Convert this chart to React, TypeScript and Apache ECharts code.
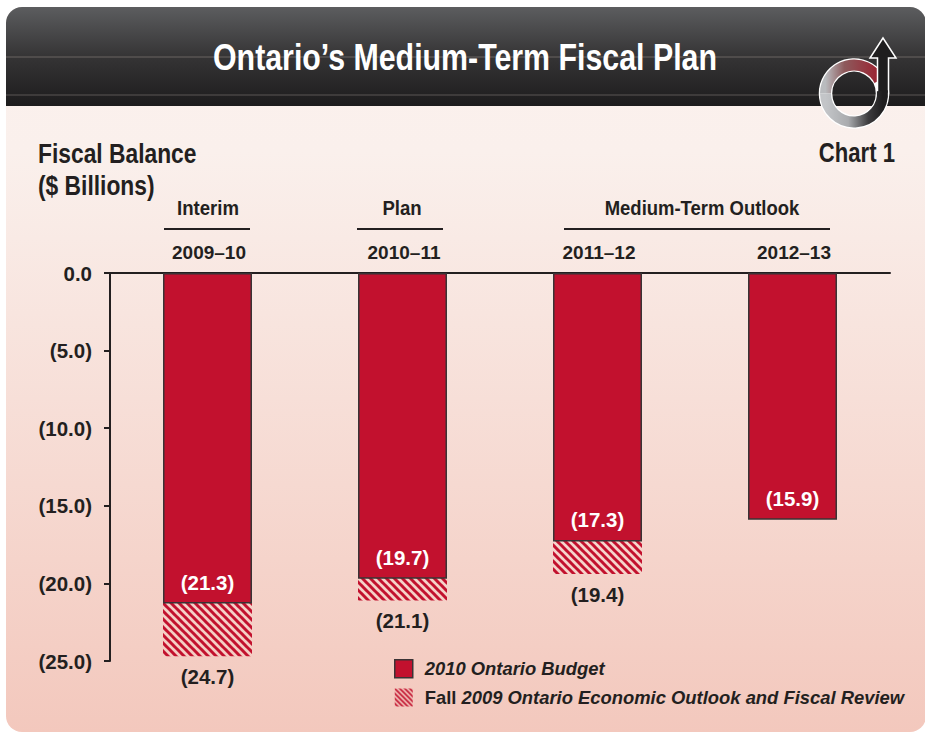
import React, { useEffect, useRef } from "react";
import * as echarts from "echarts";

const categories = ["2009–10", "2010–11", "2011–12", "2012–13"];
const budgetValues = [-21.3, -19.7, -17.3, -15.9];
const fallValues: (number | null)[] = [-24.7, -21.1, -19.4, null];
const budgetName = "2010 Ontario Budget";
const fallName = "Fall 2009 Ontario Economic Outlook and Fiscal Review";
const FONT = "'Liberation Sans', sans-serif";
const RED = "#c2112e";
const INK = "#231f20";

function hatch(size: number, lw: number) {
  const c = document.createElement("canvas");
  c.width = size;
  c.height = size;
  const g = c.getContext("2d")!;
  g.strokeStyle = RED;
  g.lineWidth = lw;
  for (let i = -1; i <= 1; i++) {
    g.beginPath();
    g.moveTo(i * size - 1, -1);
    g.lineTo(i * size + size + 1, size + 1);
    g.stroke();
  }
  return { image: c, repeat: "repeat" } as any;
}

const arrowPath = "M883 38 L896 58 L888.5 58 L888.5 93.5 L877.5 93.5 L877.5 58 L870 58 Z";
echarts.graphic.registerShape("fpArrowShape", echarts.graphic.extendPath(arrowPath, {}) as any);

const text = (x: number, y: number, t: string, size: number, sx: number, align = "left", fill = INK) => ({
  type: "text",
  x,
  y,
  scaleX: sx,
  style: { text: t, fontFamily: FONT, fontWeight: "bold", fontSize: size, fill, align, verticalAlign: "middle" },
});
const rule = (x1: number, x2: number, y: number) => ({
  type: "line",
  shape: { x1, y1: y, x2, y2: y },
  style: { stroke: INK, lineWidth: 2 },
});
const grad = (x: number, y: number, x2: number, y2: number, stops: [number, string][]) =>
  new echarts.graphic.LinearGradient(x, y, x2, y2, stops.map(([offset, color]) => ({ offset, color })));

const CX = 854;
const CY = 93.5;
const R = 28.5;

export default function App() {
  const ref = useRef<HTMLDivElement>(null);
  useEffect(() => {
    const chart = echarts.init(ref.current!, null, { renderer: "svg" });
    chart.setOption({
      animation: false,
      backgroundColor: "#ffffff",
      graphic: {
        elements: [
          {
            type: "rect",
            z: -10,
            shape: { x: 6, y: 7, width: 920, height: 725, r: 16 },
            style: { fill: grad(0, 0, 0, 1, [[0, "#fbf1ee"], [0.2, "#faf0ec"], [1, "#f3c8bd"]]) },
          },
          {
            type: "rect",
            z: -9,
            shape: { x: 6, y: 7, width: 920, height: 99, r: [16, 16, 0, 0] },
            style: { fill: grad(0, 0, 0, 1, [[0, "#5c5d5f"], [0.5, "#353435"], [1, "#1d1c1d"]]) },
          },
          { type: "line", z: -8, shape: { x1: 6, y1: 57, x2: 926, y2: 57 }, style: { stroke: "#6a6462", lineWidth: 1 } },
          { type: "line", z: -8, shape: { x1: 6, y1: 95, x2: 926, y2: 95 }, style: { stroke: "#5a5654", lineWidth: 1 } },
          // logo
          { type: "arc", z: 1, shape: { cx: CX, cy: CY, r: R, startAngle: 0, endAngle: Math.PI * 2 }, style: { stroke: "#ffffff", lineWidth: 13.5, fill: "none" } },
          { type: "fpArrowShape", z: 2, style: { fill: "#1f1e1f", stroke: "#ffffff", lineWidth: 1.5 } },
          {
            type: "arc", z: 1,
            shape: { cx: CX, cy: CY, r: R, startAngle: Math.PI, endAngle: Math.PI * 1.85 },
            style: { fill: "none", lineWidth: 11, stroke: grad(0, 0, 1, 0, [[0, "#b9bbbe"], [0.35, "#8d5a5c"], [1, "#9b2231"]]) },
          },
          {
            type: "arc", z: 3,
            shape: { cx: CX, cy: CY, r: R, startAngle: -0.03 * Math.PI, endAngle: Math.PI },
            style: { fill: "none", lineWidth: 11, stroke: grad(0, 0, 1, 0, [[0, "#c3c5c8"], [0.4, "#a9abae"], [0.75, "#3d3c3e"], [1, "#1f1e1f"]]) },
          },
          // headings
          text(465, 57, "Ontario’s Medium-Term Fiscal Plan", 37, 0.82, "center", "#ffffff"),
          text(38, 153, "Fiscal Balance", 27, 0.845),
          text(38, 185, "($ Billions)", 27, 0.845),
          text(895, 153, "Chart 1", 27, 0.82, "right"),
          text(208, 208, "Interim", 21, 0.885, "center"),
          text(402, 208, "Plan", 21, 0.885, "center"),
          text(702, 208, "Medium-Term Outlook", 21, 0.88, "center"),
          rule(164, 250, 229),
          rule(357, 443, 229),
          rule(564, 830, 229),
        ],
      },
      grid: { left: 110, top: 273, width: 780, height: 388 },
      xAxis: {
        type: "category",
        position: "top",
        data: categories,
        axisLine: { lineStyle: { color: INK, width: 2 } },
        axisTick: { show: false },
        axisLabel: { margin: 11, padding: [0, 0, 0, 3], fontFamily: FONT, fontWeight: "bold", fontSize: 19, color: INK },
      },
      yAxis: {
        type: "value",
        min: -25,
        max: 0,
        interval: 5,
        splitLine: { show: false },
        axisLine: { show: true, lineStyle: { color: INK, width: 2 } },
        axisTick: { show: true, length: 6, lineStyle: { color: INK, width: 2 } },
        axisLabel: {
          margin: 18,
          fontFamily: FONT,
          fontWeight: "bold",
          fontSize: 20.5,
          color: INK,
          formatter: (v: number) => (v === 0 ? "0.0" : `(${Math.abs(v).toFixed(1)})`),
        },
      },
      legend: {
        left: 394,
        top: 659,
        orient: "vertical",
        itemWidth: 18,
        itemHeight: 18,
        itemGap: 10,
        selectedMode: false,
        padding: 0,
        data: [
          { name: budgetName, icon: "rect", itemStyle: { color: RED, borderColor: "#3a3335", borderWidth: 1.5 } },
          { name: fallName, icon: "rect", itemStyle: { color: hatch(5, 1.7), borderWidth: 0 } },
        ],
        formatter: (n: string) =>
          n === budgetName ? `{p|${n}}` : `{n|Fall }{i|${n.slice(5)}}`,
        textStyle: {
          rich: {
            p: { fontFamily: FONT, fontWeight: "bold", fontStyle: "italic", fontSize: 18.4, color: INK, padding: [0, 0, 0, 7] },
            i: { fontFamily: FONT, fontWeight: "bold", fontStyle: "italic", fontSize: 18.4, color: INK },
            n: { fontFamily: FONT, fontWeight: "bold", fontSize: 18.4, color: INK, padding: [0, 0, 0, 7] },
          },
        },
      },
      series: [
        {
          name: fallName,
          type: "bar",
          data: fallValues,
          barWidth: 89,
          barGap: "-100%",
          z: 2,
          itemStyle: { color: hatch(8, 3), borderWidth: 0 },
          label: {
            show: true,
            position: "bottom",
            distance: 10,
            fontFamily: FONT,
            fontWeight: "bold",
            fontSize: 20.5,
            color: INK,
            formatter: (p: any) => `(${Math.abs(p.value).toFixed(1)})`,
          },
        },
        {
          name: budgetName,
          type: "bar",
          data: budgetValues,
          barWidth: 89,
          barGap: "-100%",
          z: 3,
          itemStyle: { color: RED, borderColor: "#3a3335", borderWidth: 1.5 },
          label: {
            show: true,
            position: "insideBottom",
            distance: 11,
            fontFamily: FONT,
            fontWeight: "bold",
            fontSize: 20.5,
            color: "#ffffff",
            formatter: (p: any) => `(${Math.abs(p.value).toFixed(1)})`,
          },
        },
      ],
    });
    return () => chart.dispose();
  }, []);
  return <div ref={ref} style={{ position: "fixed", left: 0, top: 0, width: 925, height: 732 }} />;
}
